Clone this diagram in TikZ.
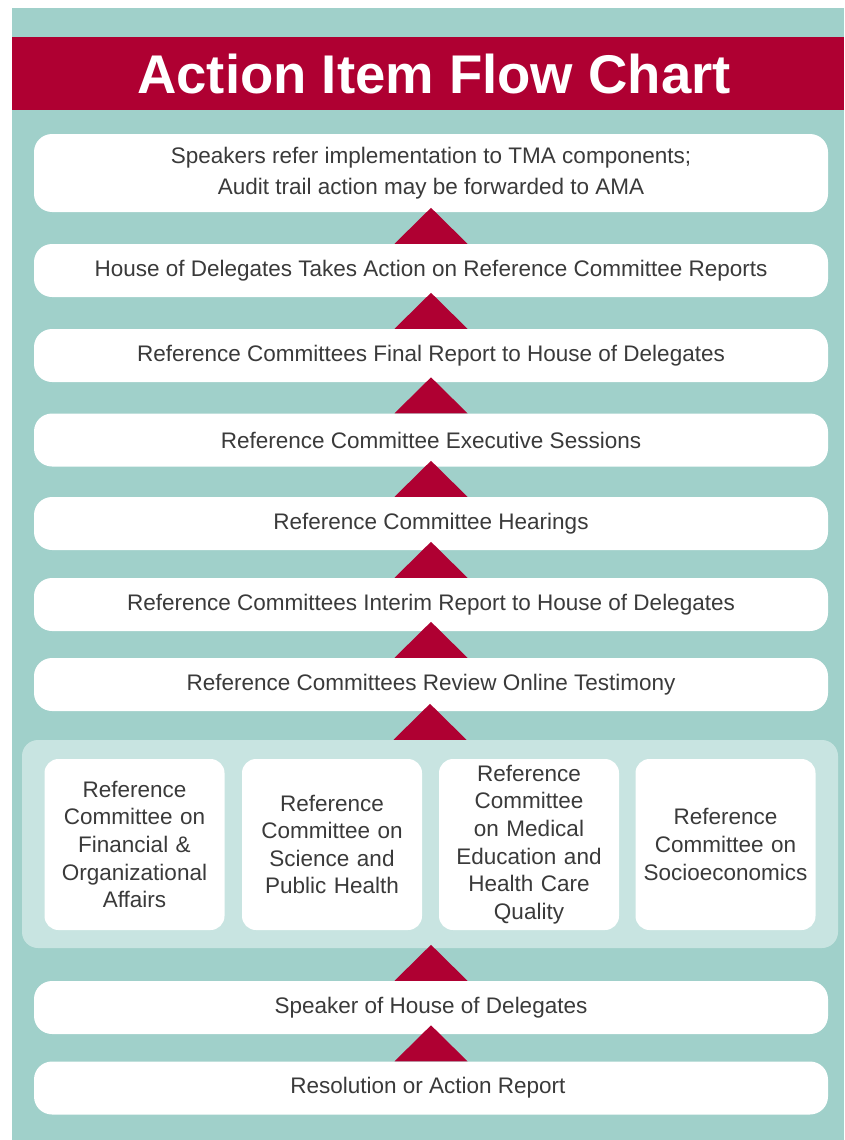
\documentclass[tikz,border=0pt]{standalone}
\usepackage{fontspec}
\setmainfont{Liberation Sans}
\usetikzlibrary{calc}
\definecolor{tmateal}{RGB}{160,208,202}
\definecolor{tmapanel}{RGB}{200,228,225}
\definecolor{tmared}{RGB}{175,0,50}
\definecolor{tmatext}{RGB}{58,58,58}
\tikzset{stage/.style={
  rectangle,rounded corners=18pt,
  fill=white,inner sep=0pt,
  minimum width=794pt,minimum height=53pt,
  text=tmatext,align=center,
  font=\fontsize{22.5}{31}\selectfont}}
\tikzset{committee/.style={
  stage,rounded corners=14pt,
  minimum width=180pt,minimum height=171pt,text width=178pt,
  font=\fontsize{22.5}{27.6}\selectfont}}
\tikzset{uparrow/.style={fill=tmared}}

\begin{document}
\begin{tikzpicture}[x=1pt,y=-1pt]
  \useasboundingbox (0,0) rectangle (844,1140);
  \fill[white] (0,0) rectangle (844,1140);
  \fill[tmateal] (12,8) rectangle (844,1140);
  \fill[tmared] (12,37) rectangle (844,110);
  \node[text=white,font=\bfseries\fontsize{54.5}{54.5}\selectfont] (title) at (434,74) {Action Item Flow Chart};
  % the stages, top to bottom
  \foreach \n/\y/\h/\l in {
      top/173/78/{Speakers refer implementation to TMA components;\\Audit trail action may be forwarded to AMA},
      hod/270.5/53/{House of Delegates Takes Action on Reference Committee Reports},
      final/355.5/53/{Reference Committees Final Report to House of Delegates},
      exec/440/53/{Reference Committee Executive Sessions},
      hear/523.5/53/{Reference Committee Hearings},
      interim/604.5/53/{Reference Committees Interim Report to House of Delegates},
      online/684.5/53/{Reference Committees Review Online Testimony},
      speaker/1007.5/53/{Speaker of House of Delegates},
      resol/1088/53/{Resolution or Action Report} }
    \node[stage,minimum height=\h pt] (\n) at (431,\y) {\l};
  % the four reference committees
  \node[fill=tmapanel,rounded corners=16pt,minimum width=816pt,minimum height=208pt] (refs) at (430,844) {};
  \foreach \n/\x/\l in {
      fin/134.5/{Reference\\Committee on\\Financial \&\\Organizational\\Affairs},
      sci/332/{Reference\\Committee on\\Science and\\Public Health},
      med/529/{Reference\\Committee\\on Medical\\Education and\\Health Care\\Quality},
      soc/725.5/{Reference\\Committee on\\Socioeconomics} }
    \node[committee] (\n) at (\x,844.5) {\l};
  \foreach \m/\n in {hod/top,final/hod,exec/final,hear/exec,interim/hear,
      online/interim,refs/online,speaker/refs,resol/speaker}
    \fill[uparrow] ([xshift=-36.5pt]\m.north) -- ([xshift=36.5pt]\m.north)
      -- ($(\m.north)+(0,-36)$) -- cycle;
\end{tikzpicture}
\end{document}
